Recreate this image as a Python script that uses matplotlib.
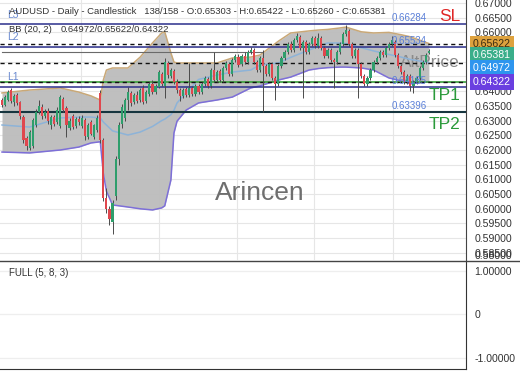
import matplotlib
matplotlib.use("Agg")
import matplotlib.pyplot as plt
from matplotlib.lines import Line2D

plt.rcParams['font.family'] = ['Liberation Sans', 'DejaVu Sans']

# daily candles (visible part)
opens = [
    .6370, .6353, .6370, .6404, .6363, .6387, .6363, .6312, .6241, .6207,
    .6214, .6285, .6329, .6346, .6316, .6333, .6285, .6312, .6295, .6282,
    .6374, .6343, .6275, .6316, .6282, .6306, .6282, .6302, .6244, .6295,
    .6244, .6268, .6395, .6235, .6035, .6000, .5955, .6045, .6170, .6288,
    .6309, .6370, .6394, .6363, .6387, .6370, .6411, .6367, .6390, .6425,
    .6397, .6414, .6458, .6418, .6496, .6452, .6469, .6431, .6404, .6384,
    .6407, .6387, .6411, .6390, .6418, .6397, .6425, .6441, .6418, .6472,
    .6438, .6469, .6438, .6479, .6492, .6458, .6506, .6516, .6492, .6520,
    .6499, .6533, .6540, .6499, .6472, .6513, .6486, .6458, .6492, .6445,
    .6425, .6486, .6513, .6533, .6561, .6540, .6574, .6584, .6547, .6567,
    .6533, .6561, .6581, .6554, .6581, .6547, .6520, .6540, .6506, .6499,
    .6533, .6561, .6595, .6605, .6561, .6520, .6540, .6492, .6452, .6425,
    .6445, .6472, .6499, .6513, .6533, .6523, .6547, .6561, .6567, .6523,
    .6486, .6465, .6431, .6452, .6418, .6431, .6445, .6479, .6499, .65303,
]
closes = [
    .6353, .6380, .6397, .6367, .6384, .6360, .6316, .6234, .6214, .6261,
    .6302, .6329, .6350, .6316, .6329, .6299, .6312, .6288, .6336, .6380,
    .6336, .6285, .6299, .6278, .6306, .6295, .6309, .6248, .6285, .6255,
    .6285, .6309, .6235, .6035, .6000, .5965, .6020, .6170, .6285, .6345,
    .6370, .6397, .6360, .6387, .6367, .6404, .6363, .6397, .6425, .6397,
    .6418, .6465, .6425, .6499, .6455, .6472, .6431, .6404, .6384, .6404,
    .6387, .6411, .6390, .6418, .6397, .6425, .6445, .6418, .6472, .6438,
    .6465, .6438, .6479, .6496, .6458, .6506, .6520, .6489, .6520, .6499,
    .6533, .6540, .6499, .6472, .6513, .6486, .6458, .6492, .6445, .6425,
    .6486, .6513, .6533, .6561, .6540, .6574, .6588, .6547, .6567, .6533,
    .6561, .6581, .6554, .6581, .6547, .6520, .6540, .6506, .6499, .6533,
    .6561, .6595, .6608, .6561, .6520, .6540, .6492, .6452, .6425, .6445,
    .6472, .6499, .6513, .6533, .6523, .6547, .6561, .6574, .6523, .6486,
    .6465, .6431, .6452, .6418, .6431, .6445, .6479, .6499, .6523, .65381,
]
highs = [
    .6378, .6388, .6405, .6410, .6392, .6395, .6368, .6318, .6248, .6268,
    .6310, .6338, .6370, .6355, .6340, .6342, .6320, .6320, .6345, .6388,
    .6380, .6350, .6308, .6322, .6312, .6315, .6318, .6310, .6292, .6302,
    .6290, .6319, .6404, .6240, .6070, .6010, .6030, .6180, .6295, .6358,
    .6378, .6414, .6402, .6395, .6400, .6410, .6421, .6405, .6432, .6438,
    .6425, .6472, .6465, .6513, .6503, .6480, .6476, .6440, .6410, .6412,
    .6415, .6496, .6418, .6425, .6425, .6432, .6452, .6448, .6480, .6533,
    .6472, .6475, .6486, .6503, .6500, .6513, .6527, .6525, .6527, .6533,
    .6540, .6550, .6547, .6506, .6520, .6540, .6492, .6499, .6499, .6452,
    .6492, .6520, .6540, .6567, .6570, .6581, .6598, .6592, .6574, .6574,
    .6567, .6588, .6588, .6598, .6588, .6554, .6547, .6547, .6513, .6540,
    .6567, .6602, .6625, .6612, .6567, .6547, .6547, .6499, .6458, .6452,
    .6479, .6506, .6520, .6540, .6540, .6554, .6567, .6588, .6574, .6530,
    .6492, .6472, .6458, .6458, .6438, .6452, .6486, .6506, .6530, .65422,
]
lows = [
    .6345, .6348, .6365, .6360, .6350, .6352, .6305, .6225, .6200, .6200,
    .6207, .6278, .6322, .6305, .6308, .6290, .6270, .6280, .6288, .6275,
    .6330, .6244, .6268, .6270, .6275, .6285, .6275, .6234, .6238, .6250,
    .6238, .6262, .6225, .6025, .5985, .5945, .5915, .6030, .6150, .6275,
    .6300, .6336, .6350, .6355, .6360, .6362, .6355, .6360, .6382, .6390,
    .6390, .6410, .6418, .6377, .6445, .6445, .6425, .6395, .6365, .6378,
    .6380, .6380, .6382, .6385, .6390, .6390, .6418, .6410, .6410, .6430,
    .6432, .6430, .6432, .6472, .6450, .6450, .6500, .6482, .6486, .6492,
    .6492, .6525, .6492, .6465, .6465, .6329, .6450, .6450, .6438, .6370,
    .6418, .6479, .6506, .6525, .6533, .6533, .6567, .6540, .6377, .6525,
    .6525, .6554, .6547, .6547, .6540, .6513, .6513, .6499, .6411, .6492,
    .6525, .6554, .6588, .6554, .6513, .6513, .6377, .6445, .6418, .6418,
    .6438, .6465, .6492, .6506, .6516, .6516, .6540, .6554, .6516, .6479,
    .6458, .6425, .6425, .6401, .6394, .6425, .6438, .6472, .6492, .65260,
]

# bollinger bands (20, 2), read at these candle positions
band_idx = [0, 9, 19, 25, 29, 32, 33, 34, 36, 41, 45, 49, 52, 53, 55, 56, 57, 60,
            64, 70, 75, 81, 84, 90, 94, 100, 103, 106, 110, 112, 117, 121, 126,
            130, 133, 139]
bb_upper = [.6394, .6404, .6411, .6397, .6384, .6370, .6438, .6472, .6479, .6479,
            .6516, .6564, .6598, .6602, .6530, .6499, .6496, .6496, .6496, .6496,
            .6513, .6516, .6523, .6570, .6598, .6605, .6608, .6610, .6615, .6618,
            .6602, .6598, .6600, .6592, .6585, .65622]
bb_middle = [.6285, .6278, .6309, .6312, .6312, .6309, .6295, .6285, .6265, .6251,
             .6261, .6280, .6300, .6305, .6320, .6335, .6360, .6395, .6440, .6455,
             .6465, .6472, .6489, .6496, .6515, .6540, .6552, .6564, .6564, .6562,
             .6548, .6537, .6525, .6516, .6508, .64972]
bb_lower = [.6193, .6190, .6200, .6210, .6224, .6228, .6120, .6060, .6013, .6006,
            .6000, .5996, .6003, .6010, .6098, .6258, .6298, .6336, .6360, .6370,
            .6380, .6411, .6418, .6438, .6448, .6472, .6477, .6480, .6482, .6482,
            .6479, .6472, .6445, .6435, .6425, .64322]

# drawn levels
level_lines = [0.6627, 0.6550, 0.6414, 0.6329]
level_texts = ['0.66284', '0.65534', '0.64185', '0.63396']
dashed_lines = [0.65622, 0.64972, 0.64322]
price_ticks = [0.585, 0.590, 0.595, 0.600, 0.605, 0.610, 0.615, 0.620, 0.625,
               0.630, 0.635, 0.640, 0.645, 0.650, 0.655, 0.660, 0.665, 0.670]
badge_texts = ['0.65622', '0.65381', '0.64972', '0.64322']
badge_colors = ['#dea23e', '#3aae8a', '#2e95ee', '#6a3fe0']
badge_text_colors = ['#3a2a10', 'white', 'white', 'white']
badge_ypix = [44, 55, 68, 82]

W, H = 520, 390
fig = plt.figure(figsize=(5.2, 3.9), dpi=100)
ax = fig.add_axes([0, 1 - 260 / H, 466 / W, 260 / H])
ax2 = fig.add_axes([0, 1 - 369 / H, 466 / W, 108 / H])

idx = list(range(len(closes)))
ax.set_xlim(-0.65, 151.1)
ax.set_ylim(0.58258, 0.67102)

# grid
for p in price_ticks:
    ax.axhline(p, color='#e6e6e6', lw=0.8, zorder=0)
for gx in [25.7, 51.1, 76.5, 101.6, 127.4]:
    ax.axvline(gx, color='#e6e6e6', lw=0.8, zorder=0)

ax.fill_between(band_idx, bb_lower, bb_upper, color='#bcbcbc', alpha=0.95, lw=0, zorder=2)
ax.text(149.2, 0.6496, 'AltPrice', color='#8a8a8a', fontsize=12.5,
        ha='right', va='center', zorder=2.5)
ax.plot(band_idx, bb_upper, color='#c9a877', lw=1.1, zorder=3)
ax.plot(band_idx, bb_middle, color='#8db3d8', lw=1.1, zorder=3)
ax.plot(band_idx, bb_lower, color='#7d6fd8', lw=1.1, zorder=3)

ax.plot([0, 85], [0.6533, 0.6533], color='#6a6a6a', lw=0.8, zorder=4)
ax.axhline(0.6430, color='#3aa03a', lw=1.2, zorder=4)
for p in level_lines[:3]:
    ax.axhline(p, color='#2b2f8c', lw=1.1, zorder=4)
ax.axhline(level_lines[3], color='#16353f', lw=1.5, zorder=4)
for p in dashed_lines:
    ax.axhline(p, color='#111111', lw=1.0, ls=(0, (3, 2.5)), zorder=4)

# candles
colors = ['#2f9e6c' if c >= o else '#e0474e' for o, c in zip(opens, closes)]
ax.vlines(idx, lows, highs, color='#4a4a4a', lw=0.7, zorder=5)
ax.bar(idx, [abs(c - o) for o, c in zip(opens, closes)],
       bottom=[min(o, c) for o, c in zip(opens, closes)],
       width=0.7, color=colors, lw=0, zorder=6)

for p, t in zip(level_lines, level_texts):
    ax.annotate(t, xy=(127, p), xytext=(0, 4.5), textcoords='offset points',
                color='#5a7fd8', fontsize=7, ha='left', va='center', zorder=7)
ax.text(149.2, 0.6654, 'SL', color='#e02626', fontsize=12.5, ha='right', va='center')
ax.text(149.2, 0.6386, 'TP1', color='#2a9a3a', fontsize=12.5, ha='right', va='center')
ax.text(149.2, 0.6286, 'TP2', color='#2a9a3a', fontsize=12.5, ha='right', va='center')
ax.text(84, 0.6054, 'Arincen', color='#6e6e6e', fontsize=19, ha='center', va='center')

ax.set_yticks(price_ticks)
ax.set_yticklabels([f'{p:.5f}' for p in price_ticks])
ax.yaxis.tick_right()
ax.tick_params(axis='y', length=0, pad=6, labelsize=7.6, labelcolor='#333333')
ax.set_xticks([])
for s in ['top', 'left', 'bottom']:
    ax.spines[s].set_visible(False)
ax.spines['right'].set_color('#444444')

# lower panel
ax2.set_xlim(-0.65, 151.1)
ax2.set_ylim(-1.253, 1.23)
for p in [1, 0, -1]:
    ax2.axhline(p, color='#eeeeee', lw=0.9, zorder=0)
ax2.set_yticks([1, 0, -1])
ax2.set_yticklabels(['1.00000', '0', '-1.00000'])
ax2.yaxis.tick_right()
ax2.tick_params(axis='y', length=0, pad=6, labelsize=7.6, labelcolor='#333333')
ax2.set_xticks([])
ax2.spines['top'].set_visible(False)
ax2.spines['left'].set_visible(False)
ax2.spines['right'].set_color('#333333')
ax2.spines['bottom'].set_color('#333333')
ax2.text(9 / 466, 1 - 12 / 108, 'FULL (5, 8, 3)', transform=ax2.transAxes,
         fontsize=7, color='#333333', va='center')

fig.add_artist(Line2D([0, 1], [1 - 261 / H] * 2, color='#444444', lw=1))
fig.text(475 / W, 1 - 256 / H, '0.58000', fontsize=7.6, color='#333333', va='center')

# header
fig.text(7 / W, 1 - 15 / H, 'L3', fontsize=7.5, color='#6a8ad0', va='center')
fig.text(7 / W, 1 - 37 / H, 'L2', fontsize=7.5, color='#6a8ad0', va='center')
fig.text(7 / W, 1 - 77 / H, 'L1', fontsize=7.5, color='#6a8ad0', va='center')
fig.text(9 / W, 1 - 12 / H,
         'AUDUSD - Daily - Candlestick   138/158 - O:0.65303 - H:0.65422 - L:0.65260 - C:0.65381',
         fontsize=6.8, color='#333333', va='center')
fig.text(9 / W, 1 - 29 / H, 'BB (20, 2)', fontsize=6.8, color='#333333', va='center')
fig.text(61 / W, 1 - 29 / H, '0.64972/0.65622/0.64322', fontsize=6.8, color='#333333', va='center')

for t, c, tc, yp in zip(badge_texts, badge_colors, badge_text_colors, badge_ypix):
    fig.text(473 / W, 1 - yp / H, t, fontsize=7.6, color=tc, va='center', zorder=10,
             bbox=dict(boxstyle='square,pad=0.3', fc=c, ec='none'))

fig.savefig('out.png', dpi=100)
